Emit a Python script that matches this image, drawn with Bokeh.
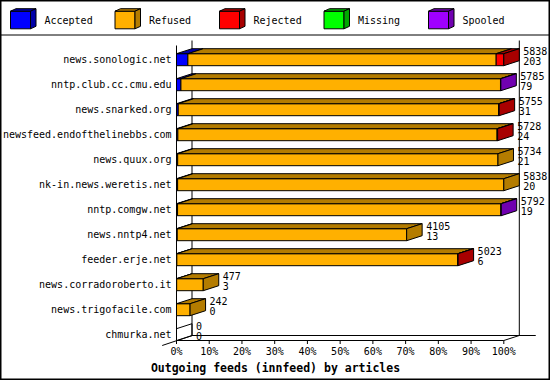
from bokeh.plotting import figure
from bokeh.models import Range1d, ColumnDataSource
from bokeh.embed import file_html
from bokeh.resources import INLINE
from bokeh.core.properties import value

# ---------------- data ----------------
hosts = ["news.sonologic.net", "nntp.club.cc.cmu.edu", "news.snarked.org",
         "newsfeed.endofthelinebbs.com", "news.quux.org", "nk-in.news.weretis.net",
         "nntp.comgw.net", "news.nntp4.net", "feeder.erje.net",
         "news.corradoroberto.it", "news.trigofacile.com", "chmurka.net"]
offered = [5838, 5785, 5755, 5728, 5734, 5838, 5792, 4105, 5023, 477, 242, 0]
accepted = [203, 79, 31, 24, 21, 20, 19, 13, 6, 3, 0, 0]
refused = [5499, 5700, 5717, 5694, 5713, 5818, 5768, 4092, 5012, 474, 242, 0]
rejected = [136, 0, 7, 10, 0, 0, 0, 0, 5, 0, 0, 0]
missing = [0, 0, 0, 0, 0, 0, 0, 0, 0, 0, 0, 0]
spooled = [0, 6, 0, 0, 0, 0, 5, 0, 0, 0, 0, 0]
series_names = ["Accepted", "Refused", "Rejected", "Missing", "Spooled"]
tick_values = [0, 10, 20, 30, 40, 50, 60, 70, 80, 90, 100]
tick_labels = ["0%", "10%", "20%", "30%", "40%", "50%", "60%", "70%", "80%", "90%", "100%"]
title = "Outgoing feeds (innfeed) by articles"

# ---------------- styles / layout ----------------
front_colors = ["#0000ff", "#ffb000", "#ff0000", "#00ff00", "#a000ff"]
shade_colors = ["#0000a8", "#b47c00", "#a80000", "#00a800", "#7000b0"]
FONT = "DejaVu Sans Mono"
W, H = 550, 380
X0_PX = 176.0          # pixel of 0 %
PX_PER_PCT = 3.273     # pixels per percent
ROW0_PX = 59.2         # pixel centre of first row
ROW_STEP = 25.0        # pixels between rows
DX_PX, DY_PX = 15.5, 5.0
BAR_HALF_PX = 6.0

def X(px):
    return (px - X0_PX) / PX_PER_PCT

def Y(py):
    return (py - ROW0_PX) / ROW_STEP

DX = DX_PX / PX_PER_PCT
DY = -DY_PX / ROW_STEP
BH = BAR_HALF_PX / ROW_STEP

p = figure(width=W, height=H, output_backend="svg", toolbar_location=None,
           x_range=Range1d(X(0), X(W)), y_range=Range1d(Y(H), Y(0)),
           x_axis_type=None, y_axis_type=None, min_border=0,
           background_fill_color="white", border_fill_color="white",
           outline_line_color="black", outline_line_width=2)
p.grid.visible = False

series = [accepted, refused, rejected, missing, spooled]
max_off = max(offered)

pxs, pys, pfill = [], [], []
side_xs, side_ys, side_fill, side_alpha = [], [], [], []
for i, h in enumerate(hosts):
    yt, yb = i - BH, i + BH
    x0 = 0.0
    last = None
    for k, s in enumerate(series):
        v = s[i]
        if v <= 0:
            continue
        w = v / max_off * 100.0
        x1 = x0 + w
        # front face
        pxs.append([x0, x1, x1, x0]); pys.append([yb, yb, yt, yt]); pfill.append(front_colors[k])
        # top face
        pxs.append([x0, x1, x1 + DX, x0 + DX]); pys.append([yt, yt, yt + DY, yt + DY]); pfill.append(shade_colors[k])
        x0 = x1
        last = k
    side_xs.append([x0, x0, x0 + DX, x0 + DX])
    side_ys.append([yb, yt, yt + DY, yb + DY])
    side_fill.append(shade_colors[last] if last is not None else "white")
    side_alpha.append(1.0 if last is not None else 0.0)

# axes frame (3D walls)
yfront = Y(340); yback = Y(335)
p.line([0, 0], [Y(45), yfront], line_color="black")
p.line([DX, DX], [Y(40), yback], line_color="black")
p.line([100 + DX, 100 + DX], [Y(40), yback], line_color="black")
p.line([0, 100, 100 + DX, X(535)], [yfront, yfront, yback, yback], line_color="black")
p.line([DX, X(535)], [yback, yback], line_color="black")
p.line([X(161.7), DX], [Y(345), yback], line_color="black")

p.patches(xs="xs", ys="ys", fill_color="c", line_color="black", line_width=1,
          source=ColumnDataSource(dict(xs=pxs, ys=pys, c=pfill)))
p.patches(xs="xs", ys="ys", fill_color="c", fill_alpha="a", line_color="black", line_width=1,
          source=ColumnDataSource(dict(xs=side_xs, ys=side_ys, c=side_fill, a=side_alpha)))

# category labels
p.text(x=[X(171)] * len(hosts), y=list(range(len(hosts))), text=hosts,
       text_font=value(FONT), text_font_size="10px", text_align="right",
       text_baseline="middle", text_color="black")

# value labels
lab_x = [o / max_off * 100.0 + DX + 4 / PX_PER_PCT for o in offered]
p.text(x=lab_x, y=[i - 8.8 / ROW_STEP for i in range(len(hosts))], text=[str(o) for o in offered],
       text_font=value(FONT), text_font_size="10px", text_align="left", text_baseline="middle")
p.text(x=lab_x, y=[i + 1.5 / ROW_STEP for i in range(len(hosts))], text=[str(a) for a in accepted],
       text_font=value(FONT), text_font_size="10px", text_align="left", text_baseline="middle")

# x ticks and labels
p.segment(x0=tick_values, y0=[yfront] * len(tick_values), x1=tick_values,
          y1=[Y(343.5)] * len(tick_values), line_color="black")
p.text(x=tick_values, y=[Y(350.5)] * len(tick_values), text=tick_labels,
       text_font=value(FONT), text_font_size="10px", text_align="center", text_baseline="middle")

# title
p.text(x=[X(W / 2)], y=[Y(367)], text=[title], text_font=value(FONT), text_font_size="11.5px",
       text_font_style="bold", text_align="center", text_baseline="middle")

# legend
p.line([X(0), X(W)], [Y(34.5), Y(34.5)], line_color="black")
lxs, lys, lc = [], [], []
lx_text, ly_text = [], []
for k, name in enumerate(series_names):
    bx0 = 10 + k * 104.5
    bx1 = bx0 + 20
    t, b = 10.7, 28.3
    ddx, ddy = 5.5, 2.5
    lxs.append([X(bx0), X(bx1), X(bx1), X(bx0)]); lys.append([Y(b), Y(b), Y(t), Y(t)]); lc.append(front_colors[k])
    lxs.append([X(bx0), X(bx1), X(bx1 + ddx), X(bx0 + ddx)]); lys.append([Y(t), Y(t), Y(t - ddy), Y(t - ddy)]); lc.append(shade_colors[k])
    lxs.append([X(bx1), X(bx1), X(bx1 + ddx), X(bx1 + ddx)]); lys.append([Y(b), Y(t), Y(t - ddy), Y(b - ddy)]); lc.append(shade_colors[k])
    lx_text.append(X(bx0 + 34)); ly_text.append(Y(20))
p.patches(xs="xs", ys="ys", fill_color="c", line_color="black", line_width=1,
          source=ColumnDataSource(dict(xs=lxs, ys=lys, c=lc)))
p.text(x=lx_text, y=ly_text, text=series_names, text_font=value(FONT), text_font_size="10px",
       text_align="left", text_baseline="middle")

open("out.html", "w").write(file_html(p, INLINE))
